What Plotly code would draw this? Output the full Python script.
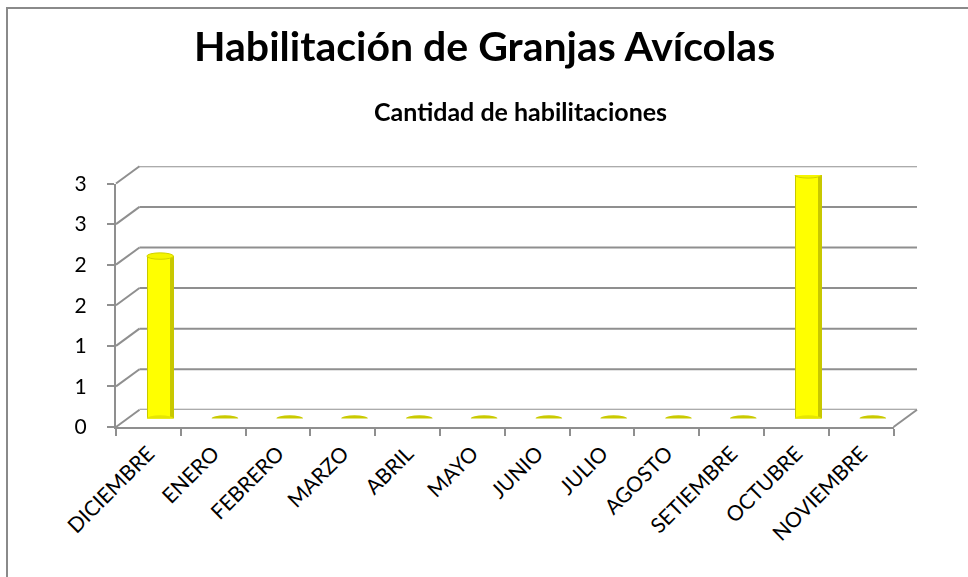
import plotly.graph_objects as go

# ---- data ----
months = ["DICIEMBRE", "ENERO", "FEBRERO", "MARZO", "ABRIL", "MAYO",
          "JUNIO", "JULIO", "AGOSTO", "SETIEMBRE", "OCTUBRE", "NOVIEMBRE"]
values = [2, 0, 0, 0, 0, 0, 0, 0, 0, 0, 3, 0]
y_tickvals = [0, 0.5, 1, 1.5, 2, 2.5, 3]
y_ticktext = ["0", "1", "1", "2", "2", "3", "3"]

title = "Habilitación de Granjas Avícolas"
subtitle = "Cantidad de habilitaciones"

# ---- geometry (pixels) ----
W, H = 968, 577
L, R, T, B = 116, 51, 164, 150
PW, PH = W - L - R, H - T - B
dxf = 23.5 / PW
dyf = 17.2 / PH
front_w = 1 - dxf
front_h = 243.5 / PH
YMAX = 3.0

FONT = "Lato"
grid_col = "#8f8f8f"

fig = go.Figure()

# invisible traces so that the back-wall and front axes render
fig.add_trace(go.Scatter(x=months, y=values, xaxis="x2", yaxis="y2",
                         mode="markers", opacity=0, hoverinfo="skip", showlegend=False))
fig.add_trace(go.Scatter(x=months, y=values, xaxis="x", yaxis="y",
                         mode="markers", opacity=0, hoverinfo="skip", showlegend=False))

# cylinder bodies (outer darker, inner highlight)
fig.add_trace(go.Bar(x=months, y=values, xaxis="x3", yaxis="y3", width=0.41,
                     marker=dict(color="#C8C800", line=dict(width=0)), showlegend=False,
                     hoverinfo="x+y"))
fig.add_trace(go.Bar(x=months, y=values, xaxis="x3", yaxis="y3", width=0.33, offset=-0.185,
                     marker=dict(color="#FFFF00", line=dict(width=0)), showlegend=False,
                     hoverinfo="skip"))

shapes = []
px_per_unit = 243.5 / 3
e = 3.2 / px_per_unit
for i, v in enumerate(values):
    if v == 0:
        shapes.append(dict(type="circle", xref="x3", yref="y3",
                           x0=i - 0.205, x1=i + 0.205, y0=-e, y1=e,
                           fillcolor="#CACA00", line=dict(width=0), layer="above"))
    else:
        shapes.append(dict(type="circle", xref="x3", yref="y3",
                           x0=i - 0.205, x1=i + 0.205, y0=v - e, y1=v + e,
                           fillcolor="#F5F500", line=dict(color="#D2D200", width=1), layer="above"))
        shapes.append(dict(type="circle", xref="x3", yref="y3",
                           x0=i - 0.205, x1=i + 0.205, y0=-e, y1=e,
                           fillcolor="#E6E600", line=dict(width=0), layer="above"))

# back-wall gridlines + side-wall diagonals
for tv in y_tickvals:
    yf = tv / YMAX * front_h
    shapes.append(dict(type="line", xref="paper", yref="paper",
                       x0=0, y0=yf, x1=dxf, y1=yf + dyf,
                       line=dict(color=grid_col, width=2), layer="below"))
    shapes.append(dict(type="line", xref="x2 domain", yref="y2",
                       x0=0, y0=tv, x1=1, y1=tv,
                       line=dict(color=grid_col, width=2), layer="below"))
shapes.append(dict(type="line", xref="paper", yref="paper",
                   x0=front_w, y0=0, x1=1, y1=dyf,
                   line=dict(color=grid_col, width=2), layer="below"))
shapes.append(dict(type="rect", xref="paper", yref="paper",
                   x0=(7 - L) / PW, x1=(990 - L) / PW,
                   y0=(H - B - 600) / PH, y1=(H - B - 8) / PH,
                   line=dict(color="#8a8a8a", width=2), fillcolor="rgba(0,0,0,0)", layer="below"))

annotations = [
    dict(text="<b>" + title + "</b>", xref="paper", yref="paper",
         x=(484 - L) / PW, y=(H - B - 45) / PH, xanchor="center", yanchor="middle",
         showarrow=False, font=dict(family=FONT, size=41, color="#000000")),
    dict(text="<b>" + subtitle + "</b>", xref="paper", yref="paper",
         x=(520 - L) / PW, y=(H - B - 111) / PH, xanchor="center", yanchor="middle",
         showarrow=False, font=dict(family=FONT, size=25, color="#000000")),
]

fig.update_layout(
    width=W, height=H,
    margin=dict(l=L, r=R, t=T, b=B, pad=0),
    paper_bgcolor="white", plot_bgcolor="rgba(0,0,0,0)",
    barmode="overlay", bargap=0,
    showlegend=False,
    font=dict(family=FONT, size=21, color="#000000"),
    shapes=shapes, annotations=annotations,
    xaxis=dict(domain=[0, front_w], anchor="y", type="category",
               categoryorder="array", categoryarray=months, range=[-0.5, 11.5],
               showgrid=False, zeroline=False, showline=True, linecolor=grid_col, linewidth=2,
               ticks="outside", tickson="boundaries", ticklen=7, tickcolor=grid_col, tickwidth=1.5,
               ticklabelstandoff=4,
               tickangle=-45, tickfont=dict(family=FONT, size=21, color="#000000")),
    yaxis=dict(domain=[0, front_h], anchor="x", range=[0, YMAX],
               tickvals=y_tickvals, ticktext=y_ticktext,
               showgrid=False, zeroline=False, showline=True, linecolor=grid_col, linewidth=2,
               ticks="outside", ticklen=7, tickcolor=grid_col, tickwidth=1.5,
               ticklabelstandoff=16,
               tickfont=dict(family=FONT, size=21, color="#000000")),
    xaxis2=dict(domain=[dxf, 1], anchor="y2", type="category",
                categoryorder="array", categoryarray=months, range=[-0.5, 11.5],
                showgrid=False, zeroline=False, showline=False, showticklabels=False, ticks=""),
    yaxis2=dict(domain=[dyf, front_h + dyf], anchor="x2", range=[0, YMAX],
                showgrid=False, zeroline=False, showline=False, showticklabels=False, ticks=""),
    xaxis3=dict(domain=[dxf / 2, front_w + dxf / 2], anchor="y3", type="category",
                categoryorder="array", categoryarray=months, range=[-0.5, 11.5],
                visible=False),
    yaxis3=dict(domain=[dyf / 2, front_h + dyf / 2], anchor="x3", range=[0, YMAX],
                visible=False),
)

fig.write_html("out.html", config={"displayModeBar": False},
               post_script="document.body.style.margin='0px';document.body.style.padding='0px';")
